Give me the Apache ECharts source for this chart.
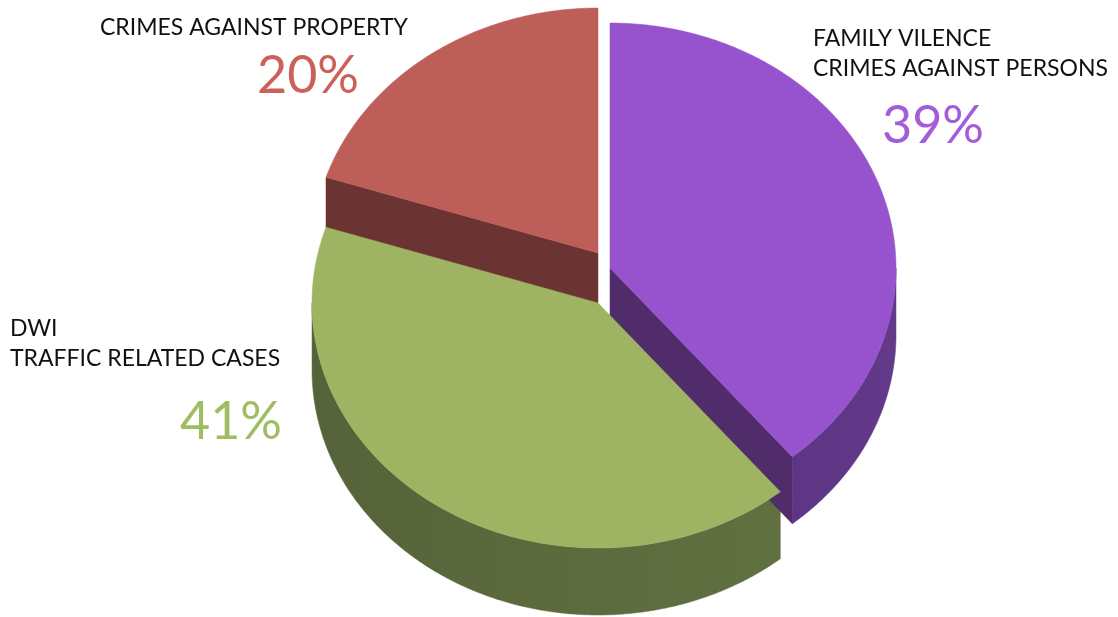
<!DOCTYPE html>
<html>
<head>
<meta charset="utf-8">
<script src="https://cdn.jsdelivr.net/npm/echarts@6/dist/echarts.min.js"></script>
<style>
html,body{margin:0;padding:0;background:#fff;}
#chart{width:1118px;height:617px;}
</style>
</head>
<body>
<div id="chart"></div>
<script>
// ---- data ----
var categories = ['FAMILY VILENCE\nCRIMES AGAINST PERSONS', 'DWI\nTRAFFIC RELATED CASES', 'CRIMES AGAINST PROPERTY'];
var values = [39, 41, 20];
var percentLabels = ['39%', '41%', '20%'];

// ---- styling / layout ----
var topColors   = ['#9653cd', '#9fb462', '#bd5f58'];
var radialColors= ['#512c6b', '#4f5a30', '#6b3432'];
var outerColors = [['#5e3585', '#633a8a'], ['#56633a', '#617040'], ['#6b3432', '#6b3432']];
var pctColors   = ['#a55cd8', '#9fbd62', '#cd6059'];
var explode     = [[12, -35], [0, 0], [0, -50]];
var geo = { cx: 598, cy: 303, rx: 286, ry: 245, depth: 67, start: 270 };
var nameLabelPos = [[813, 38], [10, 328], [100, 27]];
var pctLabelPos  = [[882, 136], [180, 432], [257, 86]];

var chart = echarts.init(document.getElementById('chart'), null, {renderer: 'canvas'});
var total = values.reduce(function (a, b) { return a + b; }, 0);
var D2R = Math.PI / 180;

function pt(t, off, dy) {
  return [geo.cx + off[0] + geo.rx * Math.cos(t * D2R),
          geo.cy + off[1] + geo.ry * Math.sin(t * D2R) + (dy || 0)];
}

function renderItem(params, api) {
  var i = params.dataIndex;
  var before = 0;
  for (var k = 0; k < i; k++) before += values[k];
  var t0 = geo.start + before / total * 360;
  var t1 = t0 + api.value(0) / total * 360;
  var off = explode[i];
  var apex = [geo.cx + off[0], geo.cy + off[1]];
  var apexB = [apex[0], apex[1] + geo.depth];
  var children = [];

  // top face
  var topPts = [apex];
  for (var t = t0; t < t1; t += 0.5) topPts.push(pt(t, off));
  topPts.push(pt(t1, off));
  children.push({
    type: 'polygon', z2: 20,
    shape: { points: topPts },
    style: { fill: topColors[i], stroke: topColors[i], lineWidth: 0.5 }
  });

  // outer wall: visible part where sin(t) > 0
  var ranges = [];
  [0, 360, 720].forEach(function (base) {
    var a = Math.max(t0, base), b = Math.min(t1, base + 180);
    if (b > a) ranges.push([a, b]);
  });
  ranges.forEach(function (r) {
    var up = [], dn = [];
    for (var t = r[0]; t < r[1]; t += 0.5) { up.push(pt(t, off)); dn.push(pt(t, off, geo.depth)); }
    up.push(pt(r[1], off)); dn.push(pt(r[1], off, geo.depth));
    children.push({
      type: 'polygon', z2: 10 - i,
      shape: { points: up.concat(dn.reverse()) },
      style: {
        fill: new echarts.graphic.LinearGradient(0, 0, 1, 0, [
          { offset: 0, color: outerColors[i][0] }, { offset: 1, color: outerColors[i][1] }
        ]),
        stroke: outerColors[i][1], lineWidth: 0.5
      }
    });
  });

  // radial walls
  var c0 = Math.cos(t0 * D2R), c1 = Math.cos(t1 * D2R);
  [[t0, c0 < -1e-6], [t1, c1 > 1e-6]].forEach(function (w) {
    if (!w[1]) return;
    var p = pt(w[0], off), pb = pt(w[0], off, geo.depth);
    children.push({
      type: 'polygon', z2: 11 - i,
      shape: { points: [apex, p, pb, apexB] },
      style: { fill: radialColors[i], stroke: radialColors[i], lineWidth: 0.5 }
    });
  });

  return { type: 'group', children: children };
}

var graphics = [];
categories.forEach(function (name, i) {
  graphics.push({
    type: 'text', left: nameLabelPos[i][0], top: nameLabelPos[i][1] - 14,
    style: { text: name, fill: '#111', font: 'normal 23px Lato', lineHeight: 30 }
  });
  graphics.push({
    type: 'text', left: pctLabelPos[i][0], top: pctLabelPos[i][1] - 36,
    style: { text: percentLabels[i], fill: pctColors[i], font: 'normal 52px Lato' }
  });
});

chart.setOption({
  backgroundColor: '#ffffff',
  animation: false,
  graphic: graphics,
  series: [{
    type: 'custom',
    coordinateSystem: 'none',
    renderItem: renderItem,
    data: values.map(function (v, i) { return { name: categories[i], value: [v] }; })
  }]
});
</script>
</body>
</html>
